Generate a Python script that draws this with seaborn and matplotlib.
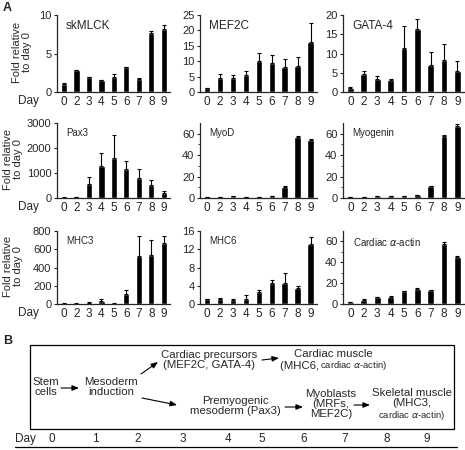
import numpy as np
import pandas as pd
import matplotlib
matplotlib.use("Agg")
import matplotlib.pyplot as plt
import seaborn as sns
from matplotlib.patches import Rectangle, FancyArrowPatch

sns.set_style("ticks")
plt.rcParams['font.family'] = ['Liberation Sans', 'DejaVu Sans']

days = ["0", "2", "3", "4", "5", "6", "7", "8", "9"]

skmlck = [1.1, 2.8, 1.9, 1.5, 2.0, 3.2, 1.7, 7.7, 8.2]
skmlck_err = [0.05, 0.1, 0.1, 0.1, 0.3, 0.1, 0.1, 0.2, 0.5]
mef2c = [1.2, 4.5, 4.6, 5.4, 10.2, 9.5, 8.1, 8.4, 16.3]
mef2c_err = [0.1, 1.2, 1.0, 1.4, 2.6, 2.4, 2.6, 2.9, 6.0]
gata4 = [1.1, 4.7, 3.4, 3.0, 11.5, 16.3, 6.9, 8.3, 5.4]
gata4_err = [0.1, 0.7, 0.8, 0.3, 5.6, 2.6, 3.6, 4.2, 2.6]
pax3 = [10, 30, 550, 1300, 1620, 1150, 800, 500, 180]
pax3_err = [10, 20, 300, 500, 900, 340, 360, 200, 90]
myod = [0.5, 0.5, 1.5, 0.8, 0.5, 1.5, 10.0, 57.0, 54.0]
myod_err = [0.1, 0.1, 0.3, 0.1, 0.1, 0.2, 1.5, 1.0, 1.0]
myogenin = [0.8, 0.8, 1.5, 1.5, 2.0, 2.5, 11.0, 58.0, 67.0]
myogenin_err = [0.1, 0.1, 0.2, 0.2, 0.3, 0.3, 0.3, 0.5, 2.0]
mhc3 = [5, 5, 15, 30, 5, 110, 530, 540, 670]
mhc3_err = [3, 3, 10, 20, 3, 40, 220, 160, 70]
mhc6 = [1.0, 1.0, 0.8, 1.1, 2.6, 4.6, 4.6, 3.4, 13.2]
mhc6_err = [0.1, 0.3, 0.4, 0.8, 0.4, 0.6, 2.1, 0.6, 1.4]
actin = [1.5, 4.0, 6.5, 7.0, 12.5, 14.5, 13.5, 58.0, 45.0]
actin_err = [0.2, 0.5, 0.3, 0.3, 0.4, 0.4, 0.4, 1.5, 1.0]

genes = ["skMLCK", "MEF2C", "GATA-4", "Pax3", "MyoD", "Myogenin",
         "MHC3", "MHC6", "Cardiac $\\alpha$-actin"]
values = [skmlck, mef2c, gata4, pax3, myod, myogenin, mhc3, mhc6, actin]
errors = [skmlck_err, mef2c_err, gata4_err, pax3_err, myod_err, myogenin_err,
          mhc3_err, mhc6_err, actin_err]
yticks = [[0, 5, 10], [0, 5, 10, 15, 20, 25], [0, 5, 10, 15, 20],
          [0, 1000, 2000, 3000], [0, 20, 40, 60], [0, 20, 40, 60],
          [0, 200, 400, 600, 800], [0, 4, 8, 12, 16], [0, 20, 40, 60]]
ylims = [10, 25, 20, 3000, 70, 70, 800, 16, 70]

W, H = 465, 450
fig = plt.figure(figsize=(W / 100, H / 100), dpi=100)

col_x = [(57, 170), (200, 317), (343, 464)]
row_y = [(15, 92), (123, 198), (231, 304)]
title_fs = [8.5, 7, 7]
ylab_x = [22, 13, 13]

for i in range(9):
    r, c = divmod(i, 3)
    x0, x1 = col_x[c]
    yt, yb = row_y[r]
    ax = fig.add_axes([x0 / W, 1 - yb / H, (x1 - x0) / W, (yb - yt) / H])
    df = pd.DataFrame({"day": days, "val": values[i]})
    sns.barplot(data=df, x="day", y="val", color="black", width=0.5,
                errorbar=None, ax=ax, saturation=1)
    pos = np.arange(len(days))
    ax.errorbar(pos, values[i], yerr=[np.zeros(len(days)), errors[i]],
                fmt="none", ecolor="black", elinewidth=0.8, capsize=1.5,
                capthick=0.8)
    ax.set_xlim(-0.56, 8.5)
    ax.set_ylim(0, ylims[i])
    ax.set_yticks(yticks[i])
    if ylims[i] == 70:
        ax.set_yticks(np.arange(10, 70, 20), minor=True)
        ax.tick_params(axis="y", which="minor", length=1.5, width=0.6)
    ax.set_xlabel("")
    ax.set_ylabel("")
    ax.tick_params(axis="x", length=0, labelsize=8.5, pad=3)
    ax.tick_params(axis="y", length=2.5, width=0.8, labelsize=8, pad=1.5)
    for s in ["top", "right"]:
        ax.spines[s].set_visible(False)
    for s in ["left", "bottom"]:
        ax.spines[s].set_linewidth(0.9)
    ax.text(0.08, 0.93, genes[i], transform=ax.transAxes, ha="left",
            va="top", fontsize=title_fs[r])
    if c == 0:
        fig.text(18 / W, 1 - (yb + 9) / H, "Day", fontsize=8.5,
                 ha="left", va="center")
        fig.text(ylab_x[r] / W, 1 - ((yt + yb) / 2 - 1) / H,
                 "Fold relative\nto day 0", rotation=90, fontsize=8,
                 ha="center", va="center", linespacing=0.95)

fig.text(3 / W, 1 - 8 / H, "A", fontsize=9, fontweight="bold",
         ha="left", va="center")
fig.text(3 / W, 1 - 341 / H, "B", fontsize=9, fontweight="bold",
         ha="left", va="center")

# Panel B diagram
bx = fig.add_axes([0, 0, 1, 1], facecolor="none")
bx.set_xlim(0, W)
bx.set_ylim(H, 0)
bx.axis("off")
bx.add_patch(Rectangle((30, 345), 424, 84, fill=False, lw=0.9, ec="black"))

fs = 8.2
sfs = 6.8
def txt(x, y, s, size=fs):
    bx.text(x, y, s, ha="center", va="center", fontsize=size, linespacing=0.95)

def arrow(p0, p1):
    bx.add_patch(FancyArrowPatch(p0, p1, arrowstyle="-|>,head_length=4,head_width=1.6",
                                 lw=0.8, color="black", shrinkA=0, shrinkB=0))

txt(46, 387, "Stem\ncells")
arrow((61, 388), (79, 388))
txt(111, 387, "Mesoderm\ninduction")
arrow((141, 374), (158, 362))
txt(209, 360, "Cardiac precursors\n(MEF2C, GATA-4)")
arrow((262, 360), (279, 358))
txt(333, 354, "Cardiac muscle")
bx.text(280, 366, "(MHC6, ", ha="left", va="center", fontsize=fs)
bx.text(320, 366, "cardiac $\\alpha$-actin)", ha="left", va="center", fontsize=sfs)
arrow((142, 398), (177, 405))
txt(235, 406, "Premyogenic\nmesoderm (Pax3)")
arrow((285, 407), (303, 407))
txt(331, 404, "Myoblasts\n(MRFs,\nMEF2C)")
arrow((354, 405), (370, 405))
txt(412, 398, "Skeletal muscle\n(MHC3,")
txt(412, 416, "cardiac $\\alpha$-actin)", size=sfs)

bdays = ["0", "1", "2", "3", "4", "5", "6", "7", "8", "9"]
bday_x = [52, 95, 138, 183, 228, 262, 304, 345, 387, 427]
bx.text(15, 439, "Day", ha="left", va="center", fontsize=8.5)
for d, x in zip(bdays, bday_x):
    bx.text(x, 439, d, ha="center", va="center", fontsize=8.5)
bx.plot([15, 457], [447, 447], color="black", lw=0.9)

fig.savefig("out.png", dpi=100)
